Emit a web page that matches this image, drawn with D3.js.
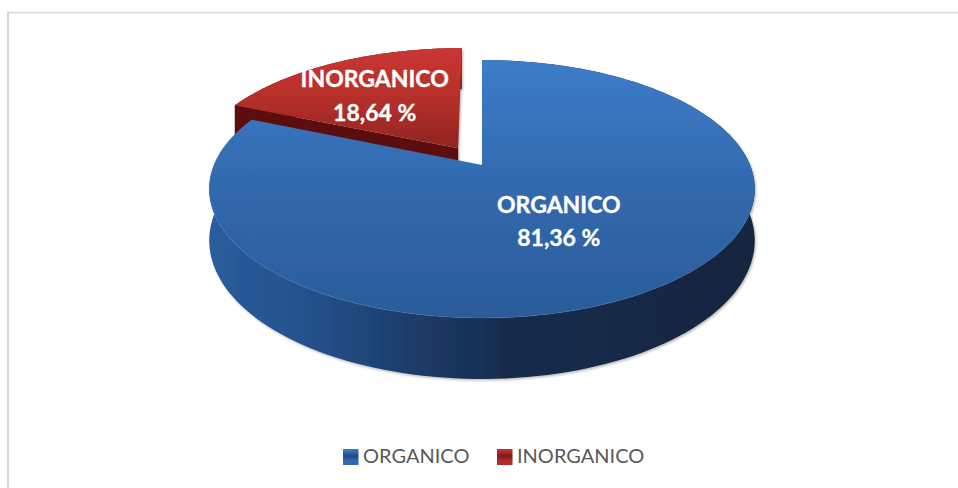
<!DOCTYPE html>
<html>
<head>
<meta charset="utf-8">
<style>
html,body{margin:0;padding:0;background:#fff;}
svg{display:block;}
text{font-family:Lato,"Open Sans",sans-serif;}
</style>
<script src="https://cdn.jsdelivr.net/npm/d3@7"></script>
</head>
<body>
<svg id="c" width="958" height="488"></svg>
<script>
// Data
const categories = ["ORGANICO", "INORGANICO"];
const values = [81.36, 18.64];
const valueLabels = ["81,36 %", "18,64 %"];

// Layout / perspective
const W = 958, H = 488;
const cx = 482, cy = 165, A = 268, B = 124.5, k = 0.186, depth = 49.7;
const explode = [0, 0.165];
const labelPos = [{r:.48,dx:0,dy:-6}, {r:.6,dx:-6,dy:-7}];

const svg = d3.select("#c");
const defs = svg.append("defs");
function grad(id, x1,y1,x2,y2, stops){
  const g = defs.append("linearGradient").attr("id",id).attr("gradientUnits","userSpaceOnUse")
    .attr("x1",x1).attr("y1",y1).attr("x2",x2).attr("y2",y2);
  stops.forEach(s=>g.append("stop").attr("offset",s[0]).attr("stop-color",s[1]));
}
grad("blueTop",0,60,0,318,[[0,"#3c7cc9"],[.5,"#3269ad"],[1,"#2a5c9b"]]);
grad("blueSide",212,0,752,0,[[0,"#2a5d9c"],[.2,"#234f88"],[.38,"#1c3c68"],[.55,"#162b4c"],[1,"#13263f"]]);
grad("redTop",0,47,0,150,[[0,"#cc3632"],[.5,"#b52f2b"],[1,"#8f2522"]]);
grad("blueSw",0,449,0,465,[[0,"#3f7fcc"],[.45,"#1f4c80"],[.7,"#2d69ad"],[1,"#2f6bb5"]]);
grad("redSw",0,449,0,465,[[0,"#c83632"],[.45,"#7c1d1a"],[.7,"#a82c28"],[1,"#bb302c"]]);

const shadow = defs.append("filter").attr("id","soft").attr("x","-5%").attr("y","-5%").attr("width","110%").attr("height","115%");
shadow.append("feDropShadow").attr("dx",1.2).attr("dy",1.5).attr("stdDeviation",1.3).attr("flood-color","#666").attr("flood-opacity",.45);
const blur = defs.append("filter").attr("id","tiny").append("feGaussianBlur").attr("stdDeviation",.45);

// frame: top and left rules only
svg.append("line").attr("x1",7).attr("x2",W).attr("y1",12.5).attr("y2",12.5).attr("stroke","#d9d9d9").attr("stroke-width",1.5);
svg.append("line").attr("x1",8).attr("x2",8).attr("y1",12).attr("y2",H).attr("stroke","#d9d9d9").attr("stroke-width",2);

const pie = d3.pie().value(d=>d).sort(null);
const arcs = pie(values);

// perspective projection of a point on the pie's disc (r, angle, height h)
function proj(r, a, e, h){
  const em = (arcs[e].startAngle+arcs[e].endAngle)/2;
  const u = r*Math.sin(a) + explode[e]*Math.sin(em);
  const v = r*Math.cos(a) + explode[e]*Math.cos(em);
  const d = 1 + k*v;
  return [cx + A*u/d, cy + (-B*v + h)/d];
}
const line = d3.line();
function rim(a0,a1,e,h){
  const n = 160;
  return d3.range(n+1).map(i=>proj(1,a0+(a1-a0)*i/n,e,h));
}
function topFace(i){
  const a = arcs[i];
  return line([proj(0,0,i,0),...rim(a.startAngle,a.endAngle,i,0)])+"Z";
}
function sideFace(i){
  const a = arcs[i];
  return line([...rim(a.startAngle,a.endAngle,i,0),...rim(a.endAngle,a.startAngle,i,depth)])+"Z";
}

const fills = ["url(#blueTop)","url(#redTop)"];
const sides = ["url(#blueSide)","#5c100d"];
const order = [1,0];
const chart = svg.append("g");
order.forEach(i=>{
  const g = chart.append("g").attr("filter","url(#soft)");
  if(i===1){
    const a = arcs[i];
    // radial cut face toward the viewer
    const p = [proj(1,a.startAngle,i,0),proj(0,0,i,0),proj(0,0,i,depth),proj(1,a.startAngle,i,depth)];
    g.append("path").attr("d",line(p)+"Z").attr("fill","#5c100d");
  }
  g.append("path").attr("d",sideFace(i)).attr("fill",sides[i]);
  g.append("path").attr("d",topFace(i)).attr("fill",fills[i]);
  if(i===0){
    const a = arcs[i];
    chart.append("path").attr("d",line(rim(a.startAngle+2.6,a.endAngle-.15,i,0))).attr("fill","none")
      .attr("stroke","#4f86c6").attr("stroke-opacity",.3).attr("stroke-width",1).attr("filter","url(#tiny)");
  }
});

// data labels
categories.forEach((c,i)=>{
  const a = arcs[i], m = (a.startAngle+a.endAngle)/2;
  const p = proj(labelPos[i].r,m,i,0);
  const t = svg.append("text").attr("text-anchor","middle").attr("fill","#fff")
    .attr("stroke","#fff").attr("stroke-width",.35)
    .attr("font-weight",700).attr("font-size",23).attr("x",p[0]+labelPos[i].dx).attr("y",p[1]+labelPos[i].dy);
  t.append("tspan").text(c);
  t.append("tspan").attr("x",p[0]+labelPos[i].dx).attr("dy",33.5).text(valueLabels[i]);
});

// legend
const legendX = [343, 497];
const swFill = ["url(#blueSw)","url(#redSw)"];
categories.forEach((c,i)=>{
  svg.append("rect").attr("x",legendX[i]).attr("y",449).attr("width",15.5).attr("height",16).attr("fill",swFill[i]).attr("filter","url(#tiny)");
  svg.append("text").attr("x",legendX[i]+20).attr("y",463).attr("fill","#595959").attr("font-size",20).text(c);
});
</script>
</body>
</html>
